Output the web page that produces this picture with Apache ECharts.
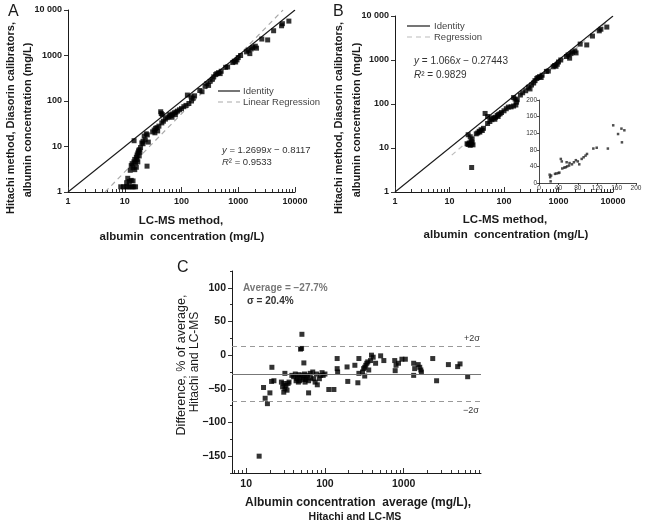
<!DOCTYPE html>
<html><head><meta charset="utf-8">
<script src="https://cdn.jsdelivr.net/npm/echarts@6/dist/echarts.min.js"></script>
<style>html,body{margin:0;padding:0;background:#fff}#c{width:649px;height:528px}</style>
</head><body><div id="c"></div>
<script>
// ---------- Panel A: LC-MS (x) vs Hitachi (y) ----------
const aX=[8.5,9.5,10.5,11.5,12.5,13.5,14.5,15.5,11.3,12,13,14,10.8,
12.5,13,13.5,14,14.5,15,15,15.5,16,16,16.5,17,17,17.5,18,18,18.5,19,16.5,
14.6,24.7,20,21,22,24,25,23,21,26,31,33,35,37,40,34,38,43,44,46,
45,48,52,56,60,65,70,75,80,85,92,62,68,78,
100,110,120,135,127,148,150,160,170,
210,230,260,280,300,320,350,370,400,420,450,480,500,
600,650,800,850,900,950,1000,1100,1400,1500,1600,1700,1800,2000,2100,
2600,3300,4200,5800,6000,7800];
const aY=[1.3,1.3,1.3,1.3,1.3,1.3,1.3,1.3,2.0,1.7,1.8,1.75,1.6,
3.0,3.8,4.2,3.4,4.6,3.1,5.2,4.4,5.8,3.5,6.5,7.2,4.6,8,8.5,6.2,7.5,9.5,5.2,
13.4,3.7,12,13,17,19,18,14,11.5,12.5,21,23,25,26,28,20,22,58,53,50,
33,36,40,43,45,48,52,55,57,60,64,50,44,50,
68,75,80,88,135,124,100,115,130,
170,160,210,240,220,270,300,340,380,400,420,400,450,
550,560,700,750,720,800,900,1000,1200,1300,1100,1400,1500,1600,1450,
2300,2200,3500,4500,5000,5700];
const aIdentityX=[1,10000], aIdentityY=[1,10000];
const aRegX=[4.5,6150], aRegY=[1,10000];

// ---------- Panel B ----------
const bX=[21,22,23,24,25,26,27,22,24,26,25,25.5,
31,33,35,38,40,42,36,45,50,
50,55,60,65,70,75,80,85,90,100,110,58,68,78,
120,135,150,165,150,160,170,175,200,220,250,280,300,
320,350,370,400,420,450,480,500,600,650,800,850,900,950,1000,1100,
1400,1500,1600,1700,1800,2000,2100,2500,3300,4200,5600,6000,7700];
const bY=[12.5,12,13,11.5,12,13,11.8,20,18,16,14,3.6,
21,22,24,26,25,28,23,61,52,
36,40,44,48,50,55,58,60,64,70,78,48,45,52,
85,86,90,95,140,130,110,125,160,180,200,240,220,
270,300,340,380,400,420,400,450,550,560,700,750,720,800,900,1000,
1200,1300,1100,1400,1500,1600,1450,2300,2200,3500,4600,5000,5600];
const bIdentityX=[1,10000], bIdentityY=[1,10000];
const bRegX=[11,8000], bRegY=[6.9,7700];

// ---------- Inset of panel B (linear) ----------
const insetX=[22,23,24,25,33,36,40,42,45,47,48,52,55,58,62,57,63,68,72,76,80,83,88,92,96,99,112,119,142,153,163,170,171,176];
const insetY=[20,14,4,18,22,23,24,25,58,52,35,37,38,40,42,50,48,45,50,55,52,45,58,62,66,70,83,85,83,139,118,131,98,127];
const insetTicks=[0,40,80,120,160,200];

// ---------- Panel C: Bland-Altman ----------
const cX=[14.6,16.6,17.4,18.6,20,21.2,21,22.5,
28,30,32,31,33,35,30,29,34,31,
38,40,42,44,45,47,48,50,52,53,55,56,58,60,62,65,66,43,46,57,
51,49,50.5,54,62,
70,72,75,78,80,85,88,92,95,100,
112,130,143,143,145,
191,195,240,262,270,270,
300,310,320,330,340,350,360,380,320,
390,410,440,510,560,
770,800,860,780,950,1050,
1340,1340,1380,1530,1600,1680,1650,
2340,2620,3700,4850,5200,6500];
const cY=[-150,-48,-64,-72,-56,-18,-39,-38,
-40,-42,-45,-50,-52,-40,-55,-47,-42,-27,
-30,-32,-28,-35,-31,-29,-38,-33,-30,-36,-28,-40,-33,-30,-38,-27,-34,-38,-40,-36,
31,9,10,-11.5,-56,
-25,-35,-40,-28,-44,-35,-30,-26,-30,-28,
-51,-51,-5,-20,-25,
-17.5,-39,-15,-41,-5,-27,
-25,-20,-18,-15,-12,-10,-22,-8,-31,
0,-3,-12,-1,-8,
-8,-15,-12,-23,-6,-6,
-12,-30,-20,-14,-18,-25,-22,
-5,-38,-14,-17,-13,-32];
const cAverage=-27.7, cSigma=20.4;
const cYTicks=[-150,-100,-50,0,50,100];
const cXTicks=[10,100,1000];
const logTicks=[1,10,100,1000,10000];
const logTickLabelsX=['1','10','100','1000','10000'];
const logTickLabelsY=['1','10','100','1000','10 000'];

const FONT='"Liberation Sans", Arial, sans-serif';
const INK='#1a1a1a';
function pairs(xs,ys){return xs.map((x,i)=>[x,ys[i]]);}
function minors(lo,hi,min,max){const r=[];for(let d=lo;d<hi;d*=10){for(let k=2;k<=9;k++){const v=d*k;if(v>min&&v<max)r.push(v);}}return r;}
function labelFrom(vals,labels){return v=>{const i=vals.findIndex(t=>Math.abs(t-v)/t<1e-6);return i>=0?labels[i]:'';};}
const lineStyle={color:INK,width:1};
const tickStyle={color:'#333',width:1};

function mainLogX(grid){return {type:'log',gridIndex:grid,position:'bottom',min:1,max:10000,
  axisLine:{show:true,onZero:false,lineStyle},axisTick:{show:true,inside:true,length:5,lineStyle:tickStyle,customValues:logTicks},
  axisLabel:{customValues:logTicks,formatter:labelFrom(logTicks,logTickLabelsX),fontSize:9,fontWeight:'bold',color:INK,fontFamily:FONT,margin:5},
  splitLine:{show:false}};}
function minorLogX(grid,min,max){return {type:'log',gridIndex:grid,position:'bottom',min:min,max:max,
  axisLine:{show:false,onZero:false},axisTick:{show:true,inside:true,length:3,lineStyle:tickStyle,customValues:minors(1,10000,min,max)},
  axisLabel:{show:false},splitLine:{show:false}};}
function mainLogY(grid){return {type:'log',gridIndex:grid,position:'left',min:1,max:10000,
  axisLine:{show:true,onZero:false,lineStyle},axisTick:{show:true,inside:false,length:4,lineStyle:tickStyle,customValues:logTicks},
  axisLabel:{customValues:logTicks,formatter:labelFrom(logTicks,logTickLabelsY),fontSize:9,fontWeight:'bold',color:INK,fontFamily:FONT,margin:6},
  splitLine:{show:false}};}

function txt(x,y,text,font,fill,align,rot){const o={type:'text',x:x,y:y,style:{text:text,font:font,fill:fill||INK,align:align||'center',verticalAlign:'middle'}};if(rot)o.rotation=rot;return o;}
function legLine(x1,x2,y,color,dash){return {type:'line',shape:{x1:x1,y1:y,x2:x2,y2:y},style:{stroke:color,lineWidth:1.2,lineDash:dash||null}};}
function eq(x,y,text,size){return {type:'text',x:x,y:y,style:{text:text,font:size+'px '+FONT,fill:'#333',align:'left',verticalAlign:'middle',
  rich:{i:{fontStyle:'italic',fontSize:size,fontFamily:FONT,fill:'#333'}}}};}

const option={
  animation:false,
  backgroundColor:'#fff',
  grid:[
    {left:68,top:10,width:227,height:182},
    {left:395,top:16,width:218,height:176},
    {left:539,top:100,width:97,height:83},
    {left:232,top:271,width:249,height:202}
  ],
  xAxis:[
    mainLogX(0),
    mainLogX(1),
    {type:'value',gridIndex:2,position:'bottom',min:0,max:200,interval:40,
      axisLine:{show:true,onZero:false,lineStyle:{color:INK,width:0.8}},axisTick:{length:2,lineStyle:{color:INK,width:0.8}},
      axisLabel:{fontSize:6.5,color:'#333',fontFamily:FONT,margin:2,customValues:insetTicks},splitLine:{show:false}},
    {type:'log',gridIndex:3,position:'bottom',min:6.6,max:9600,
      axisLine:{show:true,onZero:false,lineStyle},axisTick:{show:true,inside:true,length:5,lineStyle:tickStyle,customValues:cXTicks},
      axisLabel:{customValues:cXTicks,formatter:v=>String(Math.round(v)),fontSize:10.5,fontWeight:'bold',color:INK,fontFamily:FONT,margin:6},
      splitLine:{show:false}},
    minorLogX(0,1,10000),
    minorLogX(1,1,10000),
    minorLogX(3,6.6,9600)
  ],
  yAxis:[
    mainLogY(0),
    mainLogY(1),
    {type:'value',gridIndex:2,position:'left',min:0,max:200,interval:40,
      axisLine:{show:true,onZero:false,lineStyle:{color:INK,width:0.8}},axisTick:{length:2,lineStyle:{color:INK,width:0.8}},
      axisLabel:{fontSize:6.5,color:'#333',fontFamily:FONT,margin:2},splitLine:{show:false}},
    {type:'value',gridIndex:3,position:'left',min:-175,max:125,
      axisLine:{show:true,onZero:false,lineStyle},axisTick:{show:true,length:4,lineStyle:tickStyle,customValues:cYTicks},
      axisLabel:{customValues:cYTicks,formatter:v=>String(v).replace('-','\u2212'),fontSize:10.5,fontWeight:'bold',color:INK,fontFamily:FONT,margin:6},
      splitLine:{show:false}},
    {type:'value',gridIndex:3,position:'left',min:-175,max:125,interval:25,
      axisLine:{show:false,onZero:false},axisTick:{show:true,length:2,lineStyle:tickStyle},axisLabel:{show:false},splitLine:{show:false}}
  ],
  series:[
    {name:'Linear Regression',type:'line',xAxisIndex:0,yAxisIndex:0,data:pairs(aRegX,aRegY),symbol:'none',z:1,
      lineStyle:{color:'#aaa',width:1.2,type:[5,4]},silent:true},
    {name:'Identity',type:'line',xAxisIndex:0,yAxisIndex:0,data:pairs(aIdentityX,aIdentityY),symbol:'none',z:2,
      lineStyle:{color:INK,width:1.1},silent:true},
    {type:'scatter',xAxisIndex:0,yAxisIndex:0,data:pairs(aX,aY),symbol:'rect',symbolSize:5,itemStyle:{color:'#000'},z:3},
    {name:'Regression',type:'line',xAxisIndex:1,yAxisIndex:1,data:pairs(bRegX,bRegY),symbol:'none',z:1,
      lineStyle:{color:'#bbb',width:1.2,type:[5,4]},silent:true},
    {name:'Identity B',type:'line',xAxisIndex:1,yAxisIndex:1,data:pairs(bIdentityX,bIdentityY),symbol:'none',z:2,
      lineStyle:{color:INK,width:1.1},silent:true},
    {type:'scatter',xAxisIndex:1,yAxisIndex:1,data:pairs(bX,bY),symbol:'rect',symbolSize:5,itemStyle:{color:'#000'},z:3},
    {type:'scatter',xAxisIndex:2,yAxisIndex:2,data:pairs(insetX,insetY),symbol:'rect',symbolSize:2.5,itemStyle:{color:'#222'},z:3},
    {type:'scatter',xAxisIndex:3,yAxisIndex:3,data:pairs(cX,cY),symbol:'rect',symbolSize:5,itemStyle:{color:'#000'},z:3,
      markLine:{silent:true,symbol:'none',label:{show:false},animation:false,
        data:[
          {yAxis:cAverage,lineStyle:{color:'#777',width:1.2,type:'solid'}},
          {yAxis:cAverage+2*cSigma,lineStyle:{color:'#999',width:1.1,type:[5,4]}},
          {yAxis:cAverage-2*cSigma,lineStyle:{color:'#999',width:1.1,type:[5,4]}}
        ]}}
  ],
  graphic:[
    txt(8,12,'A','16px '+FONT,INK,'left'),
    txt(333,12,'B','16px '+FONT,INK,'left'),
    txt(177,268,'C','16px '+FONT,INK,'left'),
    txt(11,118,'Hitachi method, Diasorin calibrators,','bold 11px '+FONT,INK,'center',Math.PI/2),
    txt(28,120,'albumin concentration (mg/L)','bold 11px '+FONT,INK,'center',Math.PI/2),
    txt(181,221,'LC-MS method,','bold 11.5px '+FONT),
    txt(182,237,'albumin  concentration (mg/L)','bold 11.5px '+FONT),
    txt(339,118,'Hitachi method, Diasorin calibrators,','bold 11px '+FONT,INK,'center',Math.PI/2),
    txt(357,120,'albumin concentration (mg/L)','bold 11px '+FONT,INK,'center',Math.PI/2),
    txt(505,220,'LC-MS method,','bold 11.5px '+FONT),
    txt(506,235,'albumin  concentration (mg/L)','bold 11.5px '+FONT),
    legLine(218,240,91,INK,null),
    txt(243,91,'Identity','9.5px '+FONT,'#444','left'),
    legLine(218,240,102,'#aaa',[5,4]),
    txt(243,102,'Linear Regression','9.5px '+FONT,'#444','left'),
    legLine(407,430,26,INK,null),
    txt(434,26,'Identity','9.5px '+FONT,'#444','left'),
    legLine(407,430,37,'#bbb',[5,4]),
    txt(434,37,'Regression','9.5px '+FONT,'#444','left'),
    eq(222,150,'{i|y} = 1.2699{i|x} \u2212 0.8117',9.5),
    eq(222,162,'{i|R}\u00b2 = 0.9533',9.5),
    eq(414,61,'{i|y} = 1.066{i|x} \u2212 0.27443',10),
    eq(414,75,'{i|R}\u00b2 = 0.9829',10),
    txt(182,365,'Difference, % of average,','12.5px '+FONT,INK,'center',Math.PI/2),
    txt(195,362,'Hitachi and LC-MS','12px '+FONT,INK,'center',Math.PI/2),
    txt(358,503,'Albumin concentration  average (mg/L),','bold 12px '+FONT),
    txt(355,517,'Hitachi and LC-MS','bold 10.5px '+FONT),
    txt(243,288,'Average = \u221227.7%','bold 10px '+FONT,'#777','left'),
    txt(247,301,'\u03c3 = 20.4%','bold 10px '+FONT,'#333','left'),
    txt(472,339,'+2\u03c3','9px '+FONT,'#333'),
    txt(471,411,'\u22122\u03c3','9px '+FONT,'#333')
  ]
};
const chart=echarts.init(document.getElementById('c'));
chart.setOption(option);
</script></body></html>
